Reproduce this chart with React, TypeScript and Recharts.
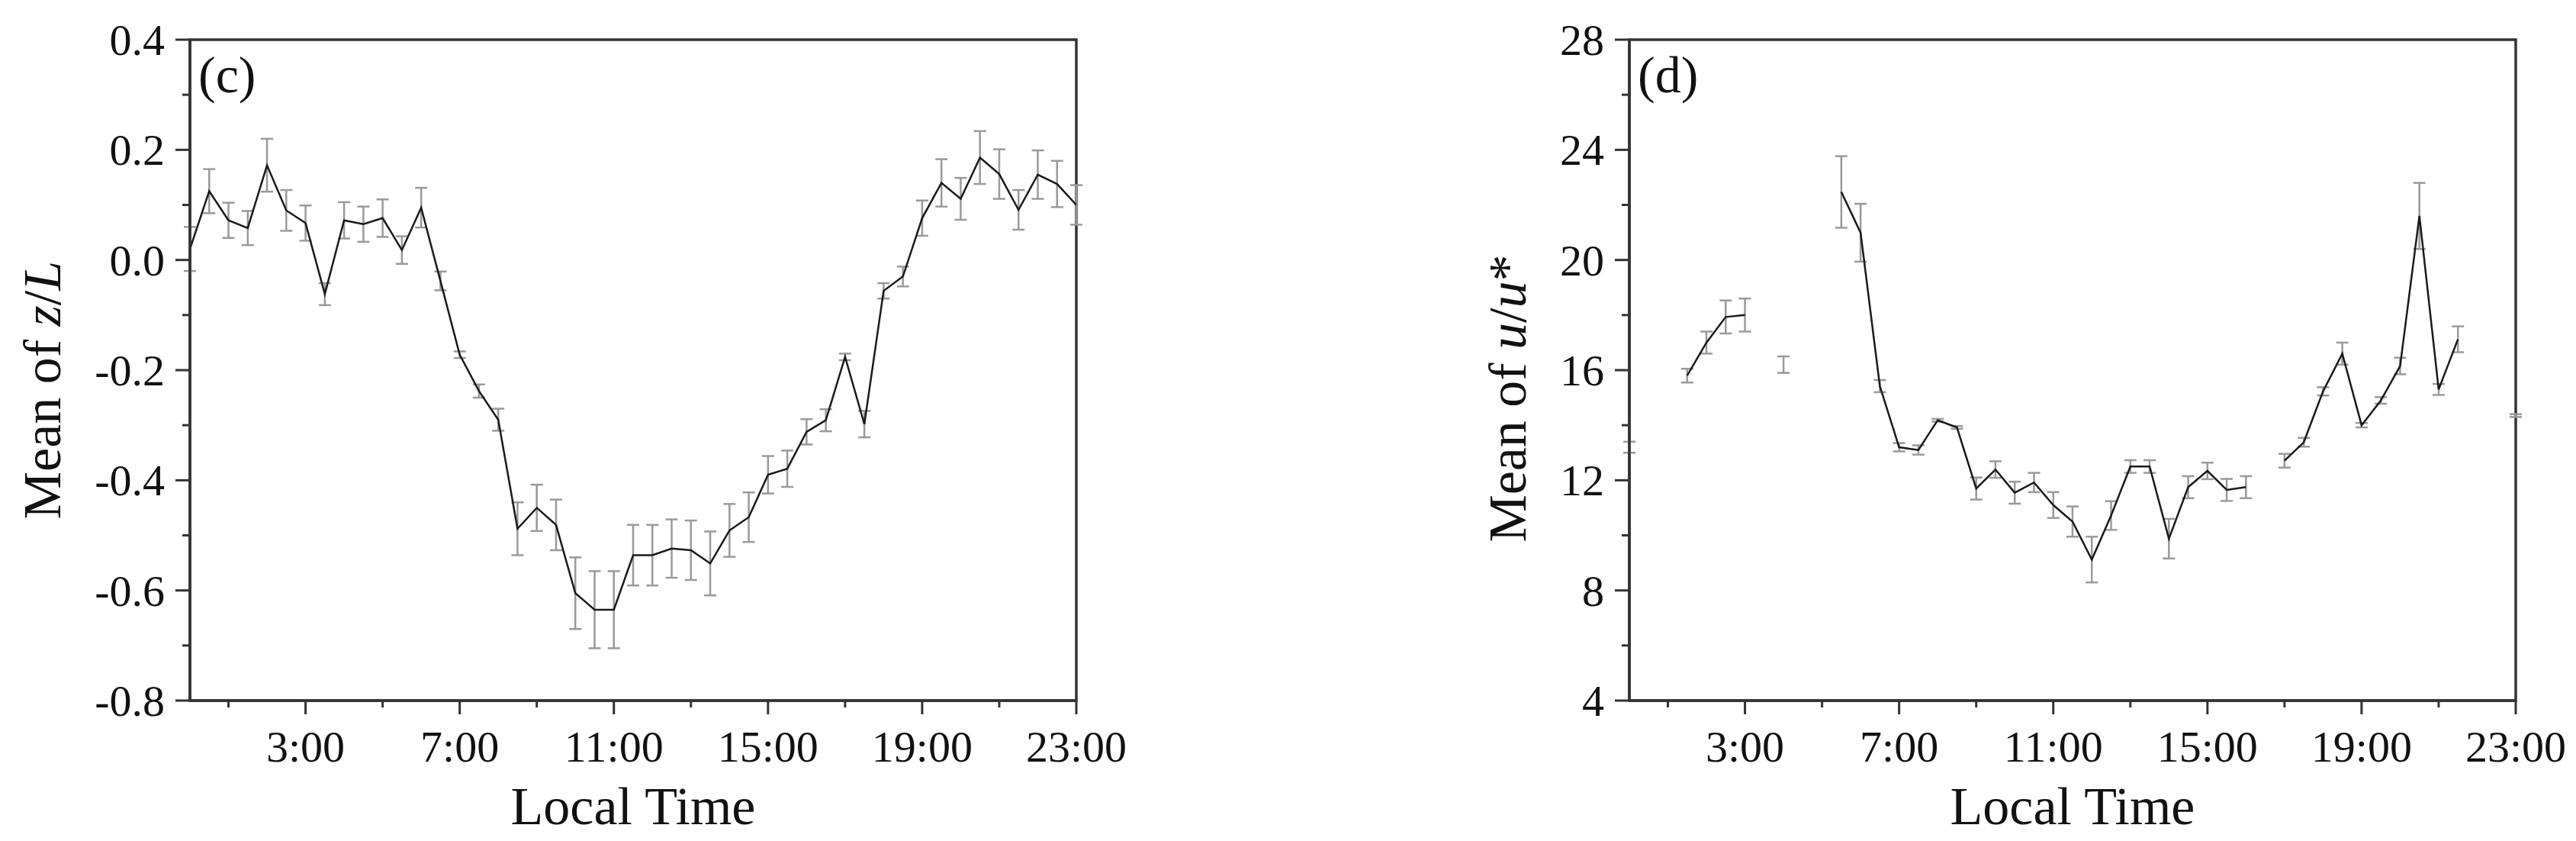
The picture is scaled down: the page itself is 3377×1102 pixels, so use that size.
import React from "react";
import { LineChart, Line, XAxis, YAxis, ErrorBar, ReferenceArea } from "recharts";

// half-hourly local time (h)
const hours = [
  0, 0.5, 1, 1.5, 2, 2.5, 3, 3.5, 4, 4.5, 5, 5.5, 6, 6.5, 7, 7.5, 8, 8.5, 9, 9.5, 10, 10.5, 11, 11.5,
  12, 12.5, 13, 13.5, 14, 14.5, 15, 15.5, 16, 16.5, 17, 17.5, 18, 18.5, 19, 19.5, 20, 20.5, 21, 21.5,
  22, 22.5, 23,
];

// (c) mean of z/L and its error
const zL = [
  0.02, 0.125, 0.072, 0.058, 0.172, 0.09, 0.067, -0.062, 0.072, 0.065, 0.076, 0.018, 0.095, -0.038,
  -0.172, -0.238, -0.29, -0.488, -0.45, -0.481, -0.605, -0.635, -0.635, -0.536, -0.536, -0.524,
  -0.527, -0.551, -0.491, -0.467, -0.39, -0.379, -0.312, -0.291, -0.176, -0.298, -0.056, -0.03,
  0.076, 0.14, 0.111, 0.186, 0.156, 0.091, 0.155, 0.138, 0.1,
];
const zLErr = [
  0.04, 0.04, 0.032, 0.031, 0.048, 0.037, 0.032, 0.02, 0.033, 0.032, 0.034, 0.025, 0.036, 0.017,
  0.006, 0.012, 0.02, 0.048, 0.042, 0.046, 0.065, 0.07, 0.07, 0.055, 0.055, 0.053, 0.054, 0.058,
  0.048, 0.045, 0.034, 0.033, 0.023, 0.02, 0.006, 0.024, 0.014, 0.018, 0.032, 0.043, 0.038, 0.048,
  0.045, 0.036, 0.044, 0.042, 0.036,
];

// (d) mean of u/u* and its error (null = no data)
const uu = [
  13.2, null, null, 15.8, 17.0, 17.93, 18.0, null, 16.2, null, null, 22.47, 20.99, 15.42, 13.2,
  13.1, 14.18, 13.92, 11.7, 12.39, 11.55, 11.92, 11.1, 10.5, 9.12, 10.72, 12.5, 12.5, 9.88, 11.75,
  12.34, 11.65, 11.75, null, 12.71, 13.38, 15.23, 16.6, 14.0, 14.9, 16.15, 21.6, 15.3, 17.12, null,
  null, 14.35,
];
const uuErr = [
  0.2, null, null, 0.25, 0.4, 0.6, 0.6, null, 0.3, null, null, 1.3, 1.05, 0.22, 0.15, 0.17, 0.05,
  0.05, 0.4, 0.3, 0.4, 0.35, 0.47, 0.55, 0.83, 0.52, 0.23, 0.23, 0.72, 0.4, 0.3, 0.4, 0.4, null,
  0.25, 0.16, 0.15, 0.4, 0.08, 0.12, 0.3, 1.2, 0.2, 0.47, null, null, 0.05,
];

const xTicks = [1, 3, 5, 7, 9, 11, 13, 15, 17, 19, 21, 23];
const xTickLabels = ["", "3:00", "", "7:00", "", "11:00", "", "15:00", "", "19:00", "", "23:00"];

const yTicksC = [-0.8, -0.7, -0.6, -0.5, -0.4, -0.3, -0.2, -0.1, 0, 0.1, 0.2, 0.3, 0.4];
const yTickLabelsC = ["-0.8", "", "-0.6", "", "-0.4", "", "-0.2", "", "0.0", "", "0.2", "", "0.4"];

const yTicksD = [4, 6, 8, 10, 12, 14, 16, 18, 20, 22, 24, 26, 28];
const yTickLabelsD = ["4", "", "8", "", "12", "", "16", "", "20", "", "24", "", "28"];

const dataC = hours.map((h, i) => ({ h, v: zL[i], e: zLErr[i] }));
const dataD = hours.map((h, i) => ({ h, v: uu[i], e: uuErr[i] }));

const FONT = "'Liberation Serif', 'Times New Roman', serif";
const AXIS = "#333";
const TICK_FS = 58;
const TITLE_FS = 70;

function XTick(props: any) {
  const { x, y, payload } = props;
  const label = xTickLabels[xTicks.indexOf(payload.value)] || "";
  const major = label !== "";
  return (
    <g>
      <line x1={x} x2={x} y1={y} y2={y + (major ? 18 : 9)} stroke={AXIS} strokeWidth={3} />
      {major && (
        <text x={x} y={y + 80} textAnchor="middle" fontSize={TICK_FS} fontFamily={FONT} fill="#111">
          {label}
        </text>
      )}
    </g>
  );
}

function makeYTick(ticks: number[], labels: string[]) {
  return function YTick(props: any) {
    const { x, y, payload } = props;
    const label = labels[ticks.indexOf(payload.value)] || "";
    const major = label !== "";
    return (
      <g>
        <line x1={x - (major ? 19 : 10)} x2={x} y1={y} y2={y} stroke={AXIS} strokeWidth={3} />
        {major && (
          <text x={x - 33} y={y + 20} textAnchor="end" fontSize={TICK_FS} fontFamily={FONT} fill="#111">
            {label}
          </text>
        )}
      </g>
    );
  };
}

function Panel({
  data,
  domain,
  yTicks,
  yLabels,
  tag,
  title,
  titleX,
  titleY,
}: {
  data: any[];
  domain: [number, number];
  yTicks: number[];
  yLabels: string[];
  tag: string;
  title: React.ReactNode;
  titleX: number;
  titleY: number;
}) {
  const YTick = makeYTick(yTicks, yLabels);
  return (
    <LineChart width={1500} height={1102} data={data} margin={{ top: 52, right: 89, left: 0, bottom: 0 }}>
      <XAxis
        dataKey="h"
        type="number"
        domain={[0, 23]}
        ticks={xTicks}
        interval={0}
        tickSize={0}
        tickMargin={0}
        tickLine={false}
        tick={<XTick />}
        height={184}
        axisLine={{ stroke: AXIS, strokeWidth: 3.5 }}
        allowDataOverflow
        label={{
          content: (p: any) => (
            <text
              x={p.viewBox.x + p.viewBox.width / 2}
              y={p.viewBox.y + 162}
              textAnchor="middle"
              fontSize={TITLE_FS}
              fontFamily={FONT}
              fill="#111"
            >
              Local Time
            </text>
          ),
        }}
      />
      <YAxis
        type="number"
        domain={domain}
        ticks={yTicks}
        interval={0}
        width={249}
        tickSize={0}
        tickMargin={0}
        tickLine={false}
        tick={<YTick />}
        axisLine={{ stroke: AXIS, strokeWidth: 3.5 }}
        allowDataOverflow
        label={{
          content: (p: any) => (
            <g>
              <text
                x={titleX}
                y={titleY}
                transform={`rotate(-90 ${titleX} ${titleY})`}
                textAnchor="middle"
                fontSize={TITLE_FS}
                fontFamily={FONT}
                fill="#111"
              >
                {title}
              </text>
              <text
                x={p.viewBox.x + p.viewBox.width + 11}
                y={p.viewBox.y + 69}
                fontSize={68}
                fontFamily={FONT}
                fill="#111"
              >
                {tag}
              </text>
            </g>
          ),
        }}
      />
      <ReferenceArea
        x1={0}
        x2={23}
        y1={domain[0]}
        y2={domain[1]}
        fill="none"
        fillOpacity={0}
        stroke={AXIS}
        strokeWidth={3.5}
      />
      <Line
        dataKey="v"
        stroke="#1a1a1a"
        strokeWidth={2.5}
        dot={false}
        activeDot={false}
        connectNulls={false}
        isAnimationActive={false}
      >
        <ErrorBar dataKey="e" width={8} stroke="#9a9a9a" strokeWidth={2.5} direction="y" isAnimationActive={false} />
      </Line>
    </LineChart>
  );
}

export default function App() {
  return (
    <div
      style={{
        position: "absolute",
        left: 0,
        top: 0,
        width: 3377,
        height: 1102,
        background: "#fff",
        overflow: "hidden",
        fontFamily: FONT,
      }}
    >
      <style>{`body{margin:0;overflow:hidden;}`}</style>
      <div style={{ position: "absolute", left: 0, top: 0 }}>
        <Panel
          data={dataC}
          domain={[-0.8, 0.4]}
          yTicks={yTicksC}
          yLabels={yTickLabelsC}
          tag="(c)"
          titleX={79}
          titleY={511}
          title={
            <>
              Mean of <tspan fontStyle="italic">z</tspan>/<tspan fontStyle="italic">L</tspan>
            </>
          }
        />
      </div>
      <div style={{ position: "absolute", left: 1887, top: 0, width: 1490, overflow: "hidden" }}>
        <Panel
          data={dataD}
          domain={[4, 28]}
          yTicks={yTicksD}
          yLabels={yTickLabelsD}
          tag="(d)"
          titleX={113}
          titleY={522}
          title={
            <>
              Mean of <tspan fontStyle="italic">u</tspan>/<tspan fontStyle="italic">u</tspan>*
            </>
          }
        />
      </div>
    </div>
  );
}
